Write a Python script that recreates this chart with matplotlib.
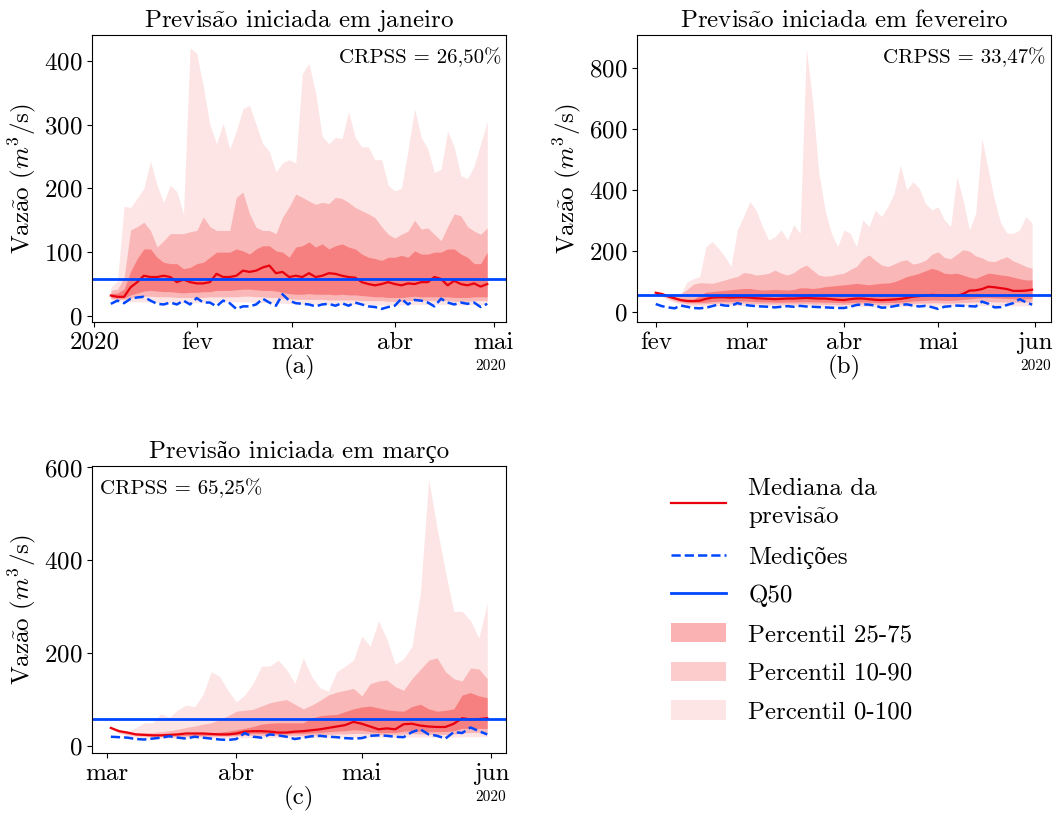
import matplotlib
matplotlib.use('Agg')
import matplotlib.pyplot as plt
import matplotlib.dates as mdates
from matplotlib.lines import Line2D
from matplotlib.patches import Patch
from matplotlib.ticker import FuncFormatter
import pandas as pd

plt.rcParams['font.family'] = ['cmr10', 'Liberation Serif']
plt.rcParams['mathtext.fontset'] = 'cm'
plt.rcParams['axes.formatter.use_mathtext'] = True
plt.rcParams['font.size'] = 18

# previsao iniciada em janeiro (a cada 2 dias a partir de 06/01)
max_a = [45, 55, 172, 170, 185, 200, 243, 205, 178, 205, 195, 160, 420, 412, 360, 300, 270, 302, 262, 290,
         325, 330, 300, 270, 258, 226, 240, 245, 240, 380, 396, 350, 282, 270, 280, 278, 320, 280, 265, 265,
         245, 245, 205, 196, 200, 260, 325, 280, 262, 225, 230, 290, 265, 220, 215, 235, 270, 305]
p90_a = [40, 42, 60, 135, 140, 147, 134, 108, 118, 129, 129, 129, 132, 134, 155, 140, 134, 134, 134, 186,
         194, 160, 139, 134, 134, 129, 155, 171, 191, 186, 180, 175, 178, 176, 186, 184, 178, 170, 165, 160,
         154, 140, 128, 122, 128, 133, 150, 136, 138, 128, 118, 140, 160, 157, 140, 133, 128, 138]
p75_a = [35, 36, 42, 70, 90, 105, 105, 92, 84, 82, 82, 74, 76, 82, 84, 92, 100, 100, 100, 105,
         102, 97, 105, 110, 110, 102, 100, 92, 108, 110, 116, 108, 113, 105, 110, 113, 108, 105, 97, 92,
         90, 87, 92, 92, 95, 92, 102, 97, 97, 100, 100, 105, 105, 97, 92, 82, 82, 100]
med_a = [32, 30, 30, 45, 53, 63, 61, 61, 63, 61, 53, 57, 53, 51, 51, 53, 66, 61, 61, 63,
         71, 69, 71, 76, 79, 67, 69, 61, 63, 61, 67, 61, 63, 67, 66, 63, 61, 60, 53, 50,
         48, 50, 53, 50, 48, 51, 50, 53, 53, 61, 58, 48, 55, 50, 48, 51, 46, 50]
p25_a = [29, 28, 28, 33, 36, 39, 40, 39, 38, 38, 37, 36, 37, 37, 38, 38, 40, 40, 40, 41,
         42, 42, 41, 40, 40, 39, 37, 35, 34, 34, 35, 34, 34, 34, 33, 34, 33, 33, 32, 31,
         30, 30, 29, 29, 29, 30, 31, 30, 30, 30, 30, 30, 29, 29, 29, 30, 30, 30]
p10_a = [27, 26, 26, 28, 30, 31, 31, 30, 30, 30, 29, 29, 29, 29, 29, 30, 30, 30, 30, 30,
         31, 31, 30, 30, 29, 29, 28, 27, 26, 26, 26, 26, 26, 25, 25, 25, 25, 25, 24, 24,
         24, 24, 23, 23, 23, 24, 24, 24, 24, 24, 24, 24, 23, 23, 23, 24, 24, 24]
min_a = [25, 24, 24, 22, 22, 22, 22, 21, 21, 21, 21, 21, 21, 21, 21, 22, 22, 22, 22, 22,
         22, 22, 21, 21, 21, 20, 20, 19, 19, 19, 19, 19, 19, 18, 18, 18, 18, 18, 18, 18,
         17, 17, 17, 17, 17, 18, 18, 18, 18, 18, 18, 18, 17, 17, 17, 18, 18, 18]
obs_a = [19, 24, 20, 27, 29, 30, 24, 19, 18, 21, 18, 24, 18, 28, 21, 21, 15, 24, 20, 11,
         15, 15, 18, 27, 21, 16, 34, 24, 20, 19, 18, 15, 18, 19, 16, 20, 16, 21, 18, 15,
         14, 11, 14, 16, 27, 18, 25, 24, 21, 15, 27, 21, 18, 21, 19, 21, 14, 19]

# previsao iniciada em fevereiro (a partir de 01/02)
max_b = [67, 62, 56, 54, 62, 100, 110, 117, 215, 232, 210, 183, 150, 270, 314, 363, 335, 281, 237, 248,
         270, 237, 287, 259, 866, 696, 456, 335, 259, 215, 270, 259, 215, 303, 281, 335, 314, 346, 390, 483,
         401, 428, 407, 357, 335, 346, 303, 281, 445, 368, 270, 325, 570, 467, 368, 292, 259, 259, 270, 314, 292]
p90_b = [66, 62, 56, 54, 60, 75, 92, 97, 96, 95, 100, 106, 112, 117, 130, 128, 122, 124, 128, 138,
         128, 122, 130, 145, 155, 138, 122, 118, 120, 125, 128, 140, 150, 175, 188, 170, 155, 150, 158, 168,
         172, 158, 162, 170, 190, 198, 180, 175, 190, 205, 200, 185, 178, 168, 166, 175, 182, 168, 160, 150, 144]
p75_b = [65, 61, 53, 48, 45, 43, 42, 55, 66, 68, 70, 72, 74, 76, 78, 78, 75, 73, 74, 75,
         74, 73, 75, 80, 80, 78, 80, 84, 86, 88, 90, 92, 95, 92, 90, 93, 95, 96, 100, 108,
         117, 122, 128, 136, 144, 138, 128, 126, 128, 122, 115, 111, 120, 128, 126, 122, 120, 115, 110, 106, 106]
med_b = [64, 60, 52, 46, 40, 37, 37, 38, 44, 48, 49, 49, 48, 49, 49, 48, 46, 45, 44, 43,
         44, 45, 45, 46, 47, 46, 45, 45, 43, 41, 40, 43, 45, 45, 43, 41, 40, 41, 42, 44,
         47, 51, 53, 55, 57, 56, 55, 54, 54, 60, 71, 72, 76, 84, 82, 79, 76, 70, 70, 71, 74]
p25_b = [62, 57, 48, 42, 36, 33, 32, 32, 33, 35, 36, 36, 36, 36, 37, 36, 35, 34, 34, 33,
         33, 34, 34, 34, 35, 34, 34, 33, 33, 32, 31, 32, 33, 34, 33, 32, 31, 32, 32, 33,
         35, 37, 38, 39, 40, 40, 39, 39, 40, 42, 44, 46, 48, 48, 47, 46, 45, 44, 44, 44, 45]
p10_b = [61, 55, 45, 38, 32, 28, 27, 27, 28, 29, 30, 30, 30, 30, 30, 29, 28, 28, 27, 27,
         27, 27, 27, 28, 28, 27, 27, 26, 26, 25, 25, 26, 27, 27, 26, 26, 25, 25, 26, 27,
         28, 29, 30, 30, 31, 31, 30, 30, 31, 32, 33, 34, 35, 35, 34, 34, 33, 33, 33, 33, 34]
min_b = [60, 52, 40, 32, 26, 22, 20, 20, 21, 21, 22, 22, 22, 22, 22, 21, 21, 20, 20, 20,
         20, 20, 20, 20, 20, 20, 19, 19, 19, 18, 18, 19, 19, 19, 19, 18, 18, 18, 18, 19,
         19, 20, 20, 20, 21, 21, 21, 21, 21, 22, 22, 22, 22, 22, 22, 22, 21, 21, 21, 21, 21]
obs_b = [27, 20, 16, 13, 22, 18, 14, 13, 15, 20, 26, 22, 21, 30, 25, 22, 20, 19, 18, 16,
         18, 20, 18, 21, 19, 18, 17, 16, 15, 14, 14, 18, 24, 26, 25, 22, 15, 16, 20, 24,
         26, 22, 19, 21, 17, 11, 18, 20, 22, 21, 20, 19, 35, 28, 16, 17, 24, 30, 43, 33, 25]

# previsao iniciada em marco (a partir de 02/03)
max_c = [40, 33, 30, 40, 50, 50, 70, 62, 78, 88, 85, 110, 160, 150, 120, 95, 110, 135, 172, 172,
         185, 165, 135, 190, 150, 125, 118, 160, 172, 185, 237, 215, 270, 230, 176, 188, 215, 330, 575, 470,
         376, 290, 290, 270, 233, 308]
p90_c = [40, 33, 30, 29, 29, 29, 31, 33, 36, 40, 43, 47, 50, 57, 65, 75, 77, 79, 86, 93,
         97, 100, 90, 80, 88, 98, 110, 116, 120, 124, 108, 134, 140, 142, 128, 120, 145, 165, 185, 190,
         160, 145, 140, 168, 166, 145]
p75_c = [39, 33, 30, 27, 26, 25, 25, 24, 24, 25, 26, 27, 28, 30, 32, 35, 38, 42, 47, 49,
         50, 50, 50, 50, 60, 65, 67, 68, 74, 80, 84, 86, 82, 78, 76, 75, 85, 90, 80, 75,
         77, 80, 110, 115, 108, 104]
med_c = [39, 32, 29, 25, 24, 23, 23, 24, 25, 27, 27, 27, 26, 25, 25, 27, 31, 32, 32, 31,
         29, 29, 31, 32, 34, 36, 39, 42, 45, 52, 48, 42, 36, 38, 36, 47, 48, 44, 42, 41,
         41, 48, 60, 57, 58, 60]
p25_c = [38, 31, 27, 24, 23, 22, 22, 22, 22, 23, 23, 23, 23, 23, 23, 24, 26, 27, 27, 27,
         26, 26, 27, 27, 28, 29, 31, 32, 33, 35, 34, 31, 29, 29, 29, 32, 33, 32, 31, 31,
         31, 33, 38, 38, 38, 38]
p10_c = [37, 29, 25, 22, 21, 20, 20, 20, 20, 21, 21, 21, 21, 21, 21, 22, 23, 23, 23, 23,
         23, 23, 23, 23, 23, 24, 25, 26, 26, 27, 27, 26, 25, 25, 25, 26, 27, 26, 25, 25,
         25, 26, 28, 29, 29, 29]
min_c = [36, 27, 22, 19, 18, 17, 17, 17, 17, 17, 17, 17, 17, 17, 17, 18, 18, 18, 18, 18,
         18, 18, 18, 18, 18, 18, 19, 19, 19, 19, 19, 19, 19, 19, 19, 19, 19, 19, 19, 19,
         19, 19, 20, 20, 20, 20]
obs_c = [20, 19, 18, 15, 14, 16, 18, 21, 18, 16, 20, 18, 16, 14, 13, 15, 28, 20, 18, 25,
         23, 20, 15, 18, 21, 22, 20, 19, 17, 16, 17, 22, 23, 22, 20, 19, 30, 36, 25, 22,
         16, 30, 28, 40, 32, 25]

q50 = 58
inicio = ['2020-01-06', '2020-02-01', '2020-03-02']
# til feito com mathtext para ficar na fonte Computer Modern
titulos = [r'Previs$\tilde{\rm a}$o iniciada em janeiro', r'Previs$\tilde{\rm a}$o iniciada em fevereiro',
           'Previsão iniciada em março']
crpss = ['CRPSS = 26,50%', 'CRPSS = 33,47%', 'CRPSS = 65,25%']
letras = ['(a)', '(b)', '(c)']
meses = {1: '2020', 2: 'fev', 3: 'mar', 4: 'abr', 5: 'mai', 6: 'jun'}

series = [
    (max_a, p90_a, p75_a, med_a, p25_a, p10_a, min_a, obs_a),
    (max_b, p90_b, p75_b, med_b, p25_b, p10_b, min_b, obs_b),
    (max_c, p90_c, p75_c, med_c, p25_c, p10_c, min_c, obs_c),
]

vermelho = '#f00000'
azul = '#0046ff'

fig, axs = plt.subplots(2, 2, figsize=(10.59, 8.21), dpi=100)
fig.subplots_adjust(left=0.0869, right=0.9924, top=0.9574, bottom=0.0828, wspace=0.316, hspace=0.502)
eixos = [axs[0, 0], axs[0, 1], axs[1, 0]]


def fmt_mes(x, pos):
    return meses[mdates.num2date(x).month]


for i in range(3):
    ax = eixos[i]
    mx, p90, p75, med, p25, p10, mn, obs = series[i]
    datas = pd.date_range(inicio[i], periods=len(mx), freq='2D')
    ax.fill_between(datas, mn, mx, color=vermelho, alpha=0.1, lw=0)
    ax.fill_between(datas, p10, p90, color=vermelho, alpha=0.2, lw=0)
    ax.fill_between(datas, p25, p75, color=vermelho, alpha=0.3, lw=0)
    ax.plot(datas, med, color='#e8000f', lw=1.6)
    ax.plot(datas, obs, '--', color=azul, lw=1.8)
    ax.axhline(q50, color=azul, lw=2)

    ax.xaxis.set_major_locator(mdates.MonthLocator())
    ax.xaxis.set_major_formatter(FuncFormatter(fmt_mes))
    ax.set_title(titulos[i], fontsize=18)
    ax.set_ylabel(r'Vaz$\tilde{\rm a}$o ($m^3$/s)', fontsize=18)
    ax.set_xlabel(letras[i], fontsize=18, labelpad=1)
    ax.tick_params(labelsize=18)
    ax.text(1.0, -0.155, '2020', transform=ax.transAxes, ha='right', va='center', fontsize=11)
    if i == 2:
        ax.text(0.02, 0.923, crpss[i], transform=ax.transAxes, ha='left', va='center', fontsize=15)
    else:
        ax.text(0.988, 0.923, crpss[i], transform=ax.transAxes, ha='right', va='center', fontsize=15)

axs[1, 1].axis('off')

handles = [
    Line2D([], [], color='#e8000f', lw=1.6),
    Line2D([], [], color=azul, lw=1.8, ls='--'),
    Line2D([], [], color=azul, lw=2),
    Patch(facecolor=vermelho, alpha=0.3, lw=0),
    Patch(facecolor=vermelho, alpha=0.2, lw=0),
    Patch(facecolor=vermelho, alpha=0.1, lw=0),
]
labels = [r'Mediana da' + '\n' + r'previs$\tilde{\rm a}$o', 'Medições', 'Q50',
          'Percentil 25-75', 'Percentil 10-90', 'Percentil 0-100']
fig.legend(handles, labels, loc='upper left', bbox_to_anchor=(661 / 1059, 1 - 468 / 821),
           frameon=False, fontsize=18, borderaxespad=0, handlelength=2.2, handleheight=0.8,
           handletextpad=0.9, labelspacing=0.62)

plt.savefig('out.png', dpi=100)
